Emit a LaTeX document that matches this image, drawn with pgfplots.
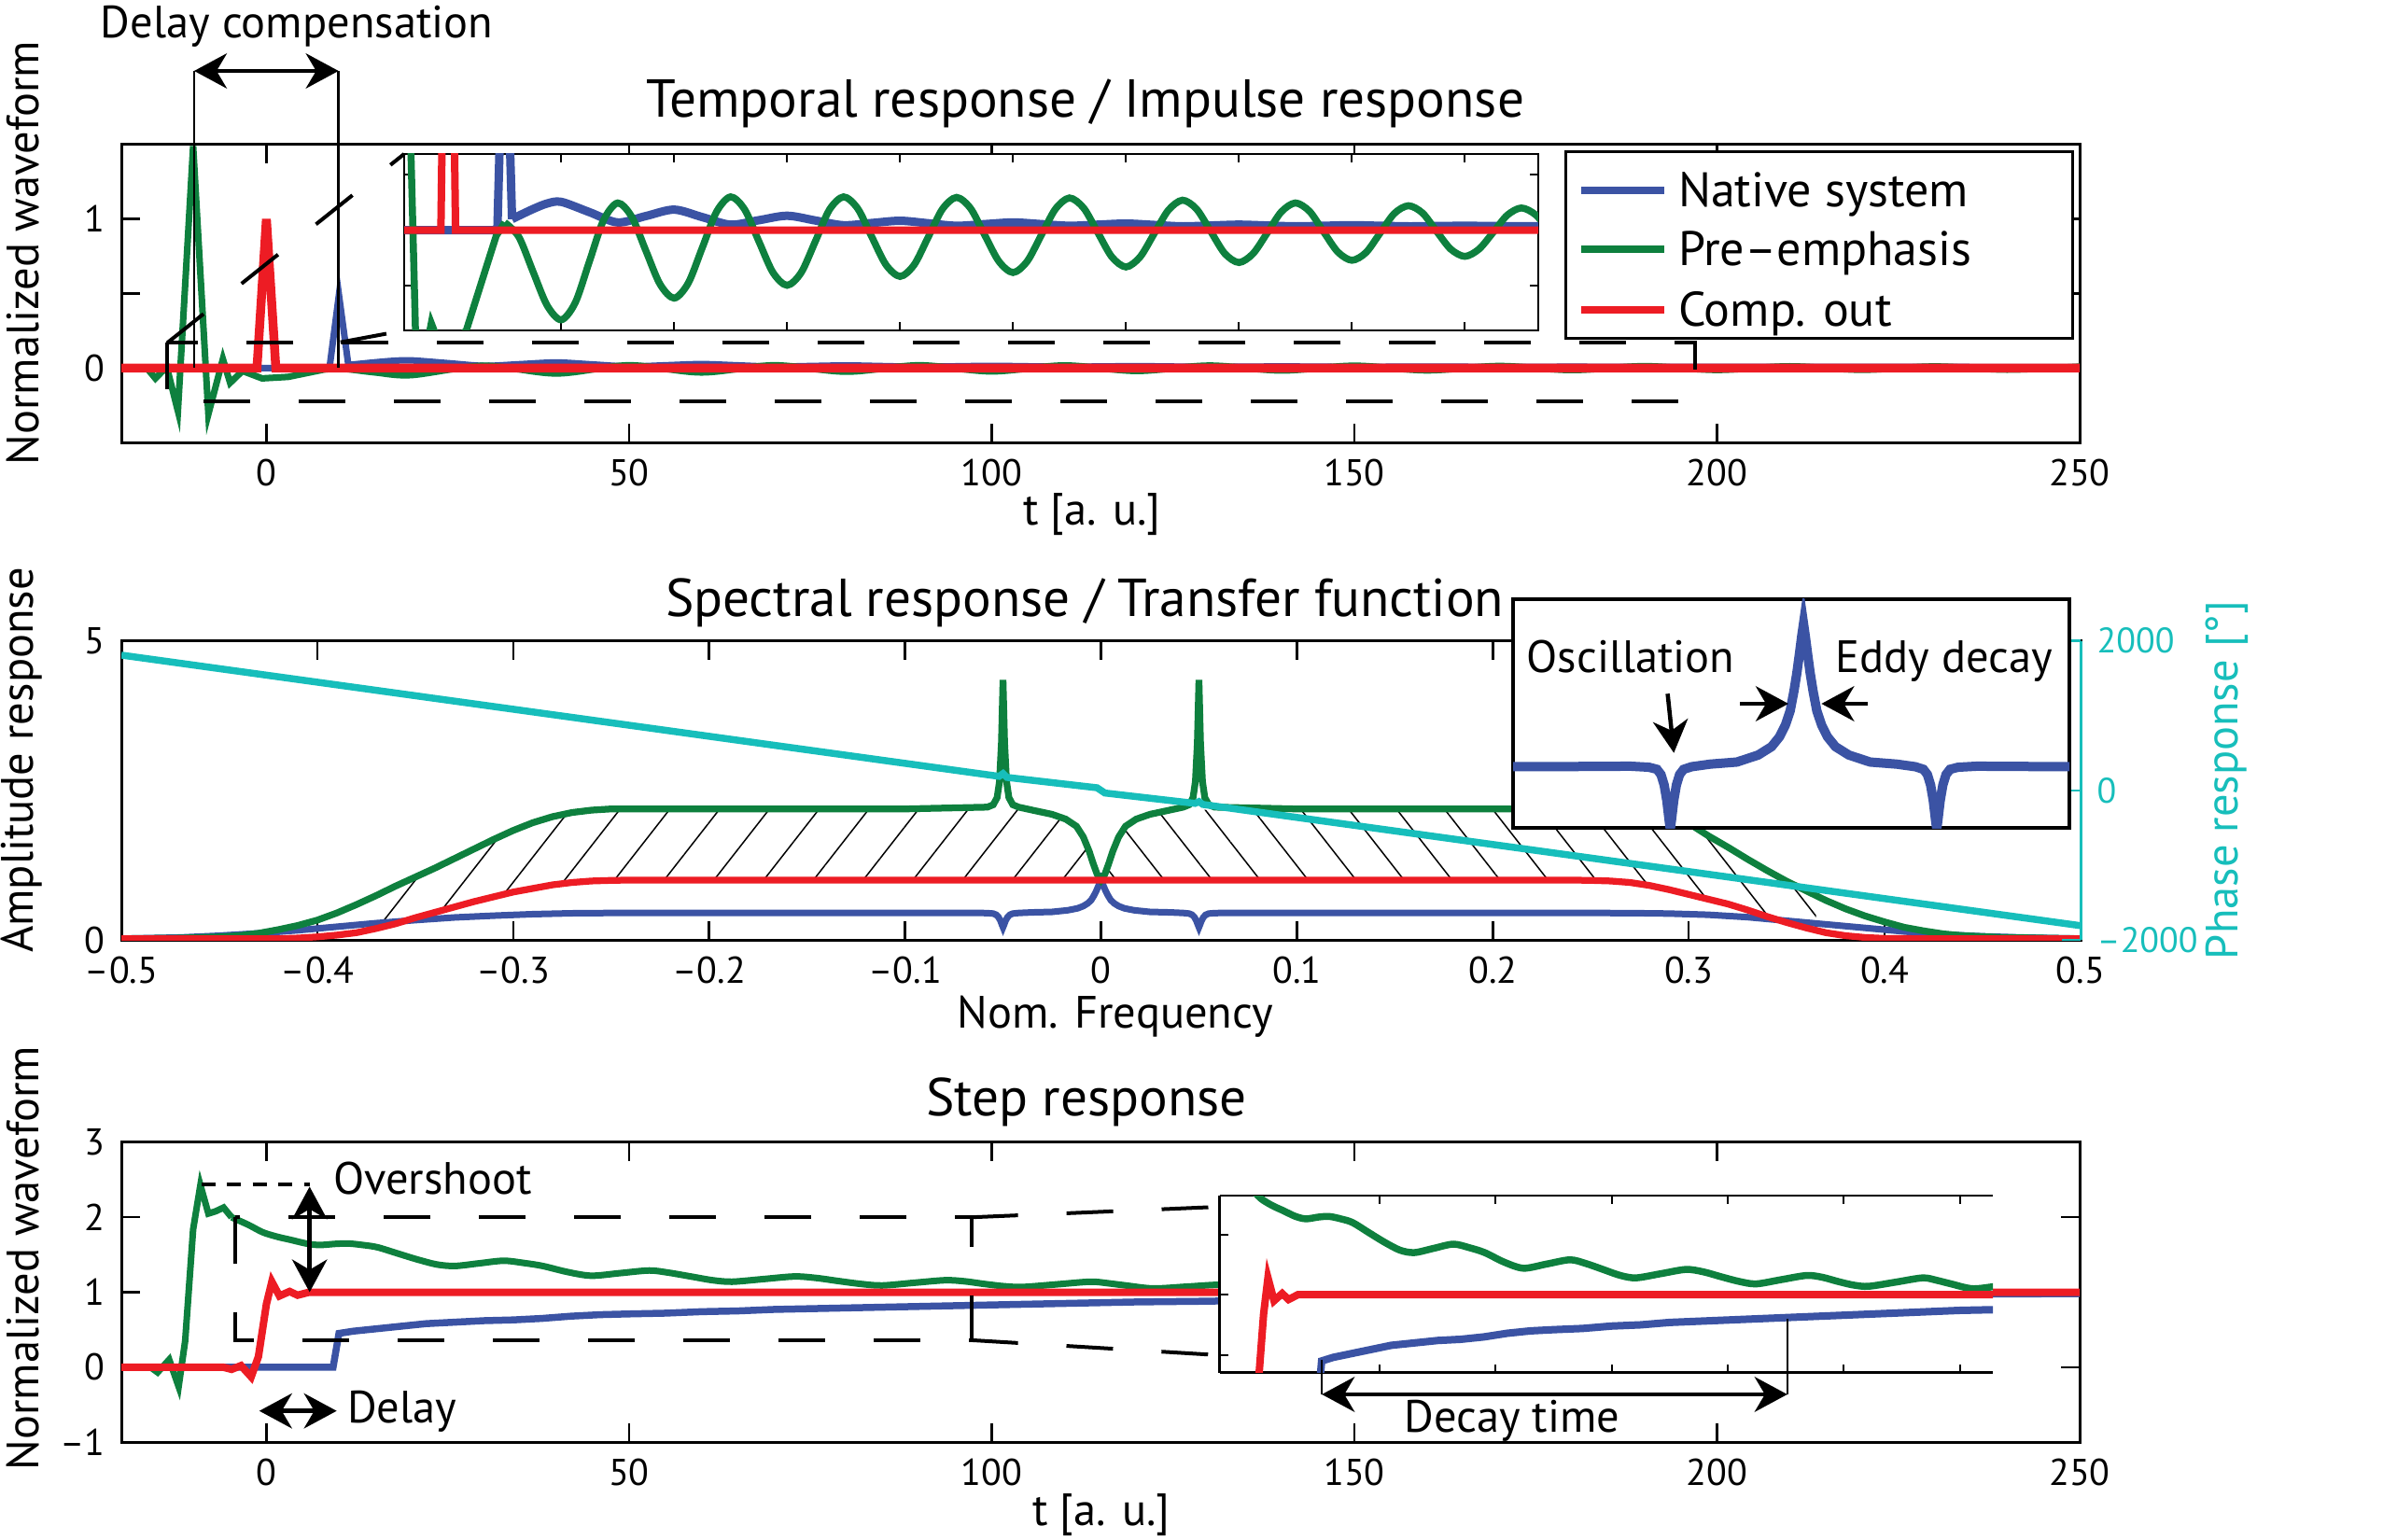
\documentclass[border=0pt]{standalone}
\usepackage{fontspec}
\setmainfont{PT Sans}
\usepackage{pgfplots}
\pgfplotsset{compat=1.18}
\usepackage{pgfplotstable}
\usetikzlibrary{arrows.meta,patterns.meta}

\definecolor{cblue}{RGB}{59,83,164}
\definecolor{cgreen}{RGB}{14,128,62}
\definecolor{cred}{RGB}{237,28,36}
\definecolor{ccyan}{RGB}{23,190,187}

\newcommand{\fTit}{\fontsize{11.45pt}{13.5pt}\selectfont}
\newcommand{\fLab}{\fontsize{9.7pt}{11.5pt}\selectfont}
\newcommand{\fLeg}{\fontsize{10.4pt}{12.5pt}\selectfont}
\newcommand{\fTick}{\fontsize{8pt}{9.5pt}\selectfont}
\newcommand{\fTickR}{\fontsize{7.6pt}{9pt}\selectfont}

% ---------- impulse response ----------
\pgfplotstableread{
t v
-20 0
8.7 0
10 0.49
11.3 0.02
}\bluespike
\pgfplotstableread{
t v
11.3 0.02
12.5 0.026
15 0.038
17.5 0.048
20 0.051
25 0.0325
30 0.014
35 0.0255
40 0.037
45 0.0235
50 0.010
55 0.018
60 0.026
65 0.0175
70 0.009
75 0.013
80 0.017
85 0.0125
90 0.008
95 0.011
100 0.014
105 0.011
110 0.008
115 0.010
120 0.012
125 0.0095
130 0.007
135 0.0085
140 0.010
145 0.0085
150 0.007
155 0.008
160 0.009
165 0.008
170 0.007
175 0.0075
180 0.008
185 0.0075
190 0.007
195 0.007
250 0.006
}\bluetail
\pgfplotstableread{
t v
-20 0
-1.3 0
0 1
1.3 0
250 0
}\redimp

% ---------- transfer function ----------
\pgfplotstableread{
f a
-0.5 0.02
-0.47 0.04
-0.45 0.07
-0.43 0.11
-0.41 0.16
-0.39 0.22
-0.37 0.28
-0.35 0.33
-0.33 0.375
-0.31 0.405
-0.29 0.43
-0.27 0.445
-0.25 0.45
-0.1 0.45
-0.065 0.452
-0.058 0.448
-0.055 0.44
-0.0535 0.42
-0.0523 0.38
-0.0513 0.32
-0.0505 0.25
-0.05 0.21
-0.0495 0.25
-0.0487 0.32
-0.0477 0.38
-0.0465 0.42
-0.045 0.44
-0.042 0.45
-0.035 0.46
-0.025 0.468
-0.017 0.495
-0.012 0.527
-0.009 0.565
-0.0068 0.61
-0.005 0.665
-0.0036 0.74
-0.0025 0.81
-0.0015 0.886
-0.0007 0.95
0 1.0
0.0007 0.95
0.0015 0.886
0.0025 0.81
0.0036 0.74
0.005 0.665
0.0068 0.61
0.009 0.565
0.012 0.527
0.017 0.495
0.025 0.468
0.035 0.46
0.042 0.45
0.045 0.44
0.0465 0.42
0.0477 0.38
0.0487 0.32
0.0495 0.25
0.05 0.21
0.0505 0.25
0.0513 0.32
0.0523 0.38
0.0535 0.42
0.055 0.44
0.058 0.448
0.065 0.452
0.1 0.45
0.25 0.45
0.27 0.448
0.29 0.44
0.31 0.42
0.33 0.38
0.35 0.32
0.37 0.26
0.39 0.20
0.41 0.14
0.43 0.09
0.45 0.06
0.47 0.04
0.5 0.02
}\blueB
\pgfplotstableread{
f a
-0.5 0.02
-0.42 0.02
-0.41 0.03
-0.4 0.05
-0.39 0.08
-0.38 0.12
-0.37 0.19
-0.36 0.27
-0.35 0.37
-0.34 0.46
-0.33 0.55
-0.32 0.64
-0.31 0.72
-0.3 0.80
-0.29 0.86
-0.28 0.92
-0.27 0.96
-0.26 0.985
-0.25 0.995
-0.24 1.0
0.24 1.0
0.25 0.995
0.26 0.985
0.27 0.96
0.28 0.91
0.29 0.84
0.3 0.76
0.31 0.68
0.32 0.60
0.33 0.50
0.34 0.39
0.35 0.29
0.36 0.20
0.37 0.12
0.38 0.07
0.39 0.04
0.4 0.025
0.42 0.02
0.5 0.02
}\redB
\pgfplotstableread{
f a
-0.5 0.02
-0.47 0.03
-0.45 0.05
-0.44 0.07
-0.43 0.11
-0.42 0.17
-0.41 0.24
-0.4 0.33
-0.39 0.45
-0.38 0.59
-0.37 0.74
-0.36 0.90
-0.35 1.05
-0.34 1.20
-0.33 1.36
-0.32 1.52
-0.31 1.68
-0.3 1.83
-0.29 1.96
-0.28 2.06
-0.27 2.13
-0.26 2.17
-0.25 2.19
-0.1 2.19
-0.058 2.22
-0.055 2.26
-0.053 2.38
-0.0518 2.65
-0.0508 3.3
-0.05 4.35
-0.0492 3.3
-0.0482 2.65
-0.047 2.38
-0.045 2.26
-0.042 2.22
-0.035 2.17
-0.025 2.10
-0.018 2.02
-0.0125 1.90
-0.009 1.72
-0.006 1.48
-0.004 1.28
-0.002 1.10
0 1.0
0.002 1.10
0.004 1.28
0.006 1.48
0.009 1.72
0.0125 1.90
0.018 2.02
0.025 2.10
0.035 2.17
0.042 2.22
0.045 2.26
0.047 2.38
0.0482 2.65
0.0492 3.3
0.05 4.35
0.0508 3.3
0.0518 2.65
0.053 2.38
0.055 2.26
0.058 2.22
0.1 2.19
0.27 2.19
0.28 2.17
0.29 2.12
0.3 1.95
0.31 1.74
0.32 1.55
0.33 1.35
0.34 1.16
0.35 0.98
0.36 0.82
0.37 0.66
0.38 0.52
0.39 0.40
0.4 0.30
0.41 0.21
0.42 0.15
0.43 0.10
0.44 0.07
0.46 0.04
0.5 0.02
}\greenB
\pgfplotstableread{
f p
-0.5 1810
-0.052 188
-0.05 225
-0.048 174
-0.002 35
0.002 -35
0.048 -174
0.05 -150
0.052 -188
0.5 -1810
}\cyanB

% ---------- step response ----------
\pgfplotstableread{
t v
-20 0
-16 0
-15 -0.07
-13.4 0.1
-12.1 -0.26
-11.2 0.35
-10.1 1.84
-9.1 2.43
-8 2.05
-7 2.08
-5.9 2.13
-4.8 2.0
}\greenstepA
\pgfplotstableread{
t v
-4.8 2.0
-2.5 1.9
-0.5 1.8
1.5 1.74
3.3 1.70
5.5 1.65
7.3 1.63
9.5 1.645
11.3 1.65
13.3 1.63
15.3 1.60
18 1.52
20.7 1.44
23.5 1.37
26 1.35
29.3 1.385
32.7 1.42
35.5 1.39
38.1 1.35
41.5 1.27
44.8 1.22
48.8 1.255
52.8 1.29
55.5 1.26
58.5 1.21
61.5 1.16
64.2 1.14
68.5 1.175
72.8 1.21
75.8 1.19
78.8 1.15
82 1.11
84.9 1.09
89.2 1.125
93.6 1.16
96.3 1.145
99 1.11
101.7 1.08
104.3 1.07
109 1.105
113.6 1.14
116 1.12
118.5 1.09
122.3 1.05
127 1.075
132 1.10
137 1.06
142 1.03
150 1.05
170 1.02
200 1.01
236 1.0
250 1.0
}\greenstepB
\pgfplotstableread{
t v
-20 0
-6 0
-4.8 -0.03
-3.5 0.02
-2.1 -0.13
-1.1 0.14
0 0.84
0.75 1.14
1.8 0.95
3.2 1.01
4.3 0.96
5.9 1.0
250 1.0
}\redstep
\pgfplotstableread{
t v
-20 0
9.2 0
10 0.45
12 0.48
14 0.50
18 0.54
22 0.58
26 0.60
30 0.62
34 0.63
38 0.65
42 0.68
46 0.70
50 0.71
55 0.72
60 0.74
65 0.75
70 0.77
75 0.78
80 0.79
85 0.80
90 0.81
95 0.82
100 0.83
110 0.85
120 0.87
130 0.88
140 0.90
160 0.92
180 0.94
200 0.96
220 0.97
250 0.98
}\bluestep

\pgfplotsset{
  every axis title shift=0pt,
  mainax/.style={scale only axis, anchor=south west, tick align=inside,
    major tick length=4pt, axis line style={line width=0.6pt},
    tick style={black,line width=0.5pt},
    xtick pos=both, ytick pos=both, xticklabel pos=lower, yticklabel pos=left,
    tick label style={font=\fTick}, /pgf/number format/assume math mode=true,
    label style={font=\fLab}, title style={font=\fTit, anchor=base}},
  inax/.style={scale only axis, anchor=south west, tick align=inside,
    major tick length=1.8pt, axis line style={line width=0.5pt},
    tick style={black,line width=0.4pt},
    xticklabels={}, yticklabels={}, axis background/.style={fill=white}},
}
\tikzset{
  dbl/.style={line width=0.9pt,
    {Stealth[length=7pt,width=7.5pt,inset=2.2pt]}-{Stealth[length=7pt,width=7.5pt,inset=2.2pt]}},
  sgl/.style={line width=0.9pt, -{Stealth[length=7pt,width=7.5pt,inset=2.2pt]}},
  zoomdash/.style={line width=0.8pt, dash pattern=on 10pt off 10.4pt},
}

\begin{document}
\begin{tikzpicture}
\path[use as bounding box] (0,0) rectangle (510.6pt,329.8pt);

% ===== Panel 1: impulse response =====
\begin{axis}[mainax, at={(26pt,235pt)}, width=419.6pt, height=63.8pt,
  xmin=-20, xmax=250, ymin=-0.5, ymax=1.5,
  xtick={0,50,100,150,200,250},
  ytick={-0.5,0,0.5,1,1.5}, yticklabels={,0,,1,},
  title={Temporal response / Impulse response},
  title style={at={(axis description cs:0.4924,1.091)}},
  xlabel={t [a. u.]},
  xlabel style={at={(axis description cs:0.4957,-0.276)}, anchor=base},
  ylabel={Normalized waveform},
  ylabel style={at={(axis description cs:-0.0502,0.636)}, anchor=center}]
\addplot[cblue, line width=1.4pt] table {\bluespike};
\addplot[cblue, line width=1.4pt, smooth] table {\bluetail};
\addplot[cgreen, line width=1.4pt] coordinates {
  (-20,0) (-16.5,0) (-15.3,-0.07) (-14.3,-0.02) (-13.7,0) (-12.2,-0.29)
  (-10.1,1.49) (-8,-0.31) (-6,0.06) (-5,-0.1) (-3.3,-0.02) (-0.6,-0.07)
  (3,-0.06) (8,-0.01) (10,0)};
\addplot[cgreen, line width=1.4pt, smooth] coordinates {
  (10,0) (15,-0.03) (20,-0.048) (30,0.015) (40,-0.037) (50,0.018)
  (60,-0.030) (70,0.018) (80,-0.025) (90,0.018) (100,-0.023) (110,0.017)
  (120,-0.020) (130,0.016) (140,-0.017) (150,0.015) (160,-0.016) (170,0.013)
  (180,-0.014) (190,0.012) (200,-0.013) (210,0.011) (220,-0.012) (230,0.010)
  (240,-0.011) (250,0.009)};
\addplot[cred, line width=1.9pt] table {\redimp};
\end{axis}

% inset of panel 1
\begin{axis}[inax, at={(86.6pt,259pt)}, width=243pt, height=37.8pt,
  xmin=-7.8, xmax=193, ymin=-0.18, ymax=0.137,
  xtick={20,40,...,180}, ytick={-0.1,0.1}]
\addplot[cblue, line width=1.8pt] table {\bluespike};
\addplot[cblue, line width=1.8pt, smooth] table {\bluetail};
\addplot[cgreen, line width=1.5pt] coordinates {
  (-10,1.5) (-5.5,-0.3) (-3,-0.167) (-1,-0.22) (3.2,-0.18) (6,-0.09)
  (8.5,-0.01) (10,0.014)};
\addplot[cgreen, line width=1.5pt, smooth] coordinates {
  (10,0.014) (12.5,-0.012) (15,-0.074) (17.5,-0.135) (20,-0.161)
  (22.5,-0.130) (25,-0.056) (27.5,0.018) (30,0.049) (32.5,0.024) (35,-0.037)
  (37.5,-0.097) (40,-0.122) (42.5,-0.095) (45,-0.031) (47.5,0.033) (50,0.060)
  (52.5,0.037) (55,-0.020) (57.5,-0.076) (60,-0.099) (62.5,-0.076) (65,-0.020)
  (67.5,0.037) (70,0.060) (72.5,0.039) (75,-0.012) (77.5,-0.062) (80,-0.083)
  (82.5,-0.062) (85,-0.012) (87.5,0.038) (90,0.059) (92.5,0.039) (95,-0.009)
  (97.5,-0.056) (100,-0.076) (102.5,-0.056) (105,-0.009) (107.5,0.038)
  (110,0.058) (112.5,0.040) (115,-0.004) (117.5,-0.048) (120,-0.066)
  (122.5,-0.048) (125,-0.006) (127.5,0.036) (130,0.054) (132.5,0.038)
  (135,-0.002) (137.5,-0.042) (140,-0.058) (142.5,-0.042) (145,-0.005)
  (147.5,0.033) (150,0.049) (152.5,0.034) (155,-0.003) (157.5,-0.039)
  (160,-0.054) (162.5,-0.040) (165,-0.005) (167.5,0.030) (170,0.044)
  (172.5,0.031) (175,-0.002) (177.5,-0.034) (180,-0.047) (182.5,-0.034)
  (185,-0.004) (187.5,0.027) (190,0.040) (192.5,0.028) (195,-0.001)};
\addplot[cred, line width=1.6pt] table {\redimp};
\end{axis}

% ===== Panel 2: transfer function =====
\begin{axis}[mainax, at={(26pt,128.4pt)}, width=419.8pt, height=64.06pt,
  xmin=-0.5, xmax=0.5, ymin=0, ymax=5,
  xtick={-0.5,-0.4,-0.3,-0.2,-0.1,0,0.1,0.2,0.3,0.4,0.5},
  xticklabels={–0.5,–0.4,–0.3,–0.2,–0.1,0,0.1,0.2,0.3,0.4,0.5},
  ytick={0,5}, ytick pos=left,
  title={Spectral response / Transfer function},
  title style={at={(axis description cs:0.4917,1.0833)}},
  xlabel={Nom. Frequency},
  xlabel style={at={(axis description cs:0.5074,-0.2957)}, anchor=base},
  ylabel={Amplitude response},
  ylabel style={at={(axis description cs:-0.051,0.601)}, anchor=center}]
% hatched region between pre-emphasis and compensated output
\addplot[draw=none, pattern={Lines[angle=52,distance=8.4pt,line width=0.3pt]}]
  coordinates {
  (-0.38,0.59) (-0.37,0.74) (-0.36,0.9) (-0.35,1.05) (-0.34,1.2) (-0.33,1.36)
  (-0.32,1.52) (-0.31,1.68) (-0.3,1.83) (-0.29,1.96) (-0.28,2.06) (-0.27,2.13)
  (-0.26,2.17) (-0.25,2.19) (-0.1,2.19) (-0.035,2.17) (-0.025,2.10)
  (-0.018,2.02) (-0.0125,1.90) (-0.009,1.72) (-0.006,1.48) (-0.004,1.28)
  (-0.002,1.10) (0,1.0) (-0.24,1.0) (-0.25,0.995) (-0.26,0.985) (-0.27,0.96)
  (-0.28,0.92) (-0.29,0.86) (-0.3,0.8) (-0.31,0.72) (-0.32,0.64) (-0.33,0.55)
  (-0.34,0.46) (-0.35,0.37) (-0.36,0.27) (-0.37,0.19) (-0.38,0.12)} -- cycle;
\addplot[draw=none, pattern={Lines[angle=-52,distance=8.1pt,line width=0.3pt]}]
  coordinates {
  (0,1.0) (0.002,1.10) (0.004,1.28) (0.006,1.48) (0.009,1.72) (0.0125,1.90)
  (0.018,2.02) (0.025,2.10) (0.035,2.17) (0.1,2.19) (0.27,2.19) (0.28,2.17)
  (0.29,2.12) (0.3,1.95) (0.31,1.74) (0.32,1.55) (0.33,1.35) (0.34,1.16)
  (0.35,0.98) (0.36,0.82) (0.365,0.74) (0.365,0.16) (0.36,0.2) (0.35,0.29)
  (0.34,0.39) (0.33,0.5) (0.32,0.6) (0.31,0.68) (0.3,0.76) (0.29,0.84)
  (0.28,0.91) (0.27,0.96) (0.26,0.985) (0.25,0.995) (0.24,1.0)} -- cycle;
\addplot[cblue, line width=1.4pt] table {\blueB};
\addplot[cgreen, line width=1.45pt] table {\greenB};
\addplot[cred, line width=1.45pt] table {\redB};
\end{axis}

\begin{axis}[mainax, at={(26pt,128.4pt)}, width=419.8pt, height=64.06pt,
  xmin=-0.5, xmax=0.5, ymin=-2000, ymax=2000,
  axis x line=none, axis y line*=right,
  ytick={-2000,0,2000}, yticklabels={–2000,0,2000},
  ytick pos=right, yticklabel pos=right,
  y axis line style={ccyan, line width=0.6pt},
  ytick style={ccyan}, yticklabel style={ccyan, font=\fTickR},
  ylabel={Phase response [°]},
  ylabel style={ccyan, at={(axis description cs:1.0745,0.534)}, anchor=center}]
\addplot[ccyan, line width=1.5pt] table {\cyanB};
\end{axis}

% inset of panel 2
\begin{axis}[scale only axis, anchor=south west, at={(324.2pt,152.4pt)},
  width=119.2pt, height=49.06pt,
  xmin=-0.109, xmax=0.0998, ymin=0.215, ymax=1.095,
  xtick=\empty, ytick=\empty, axis line style={line width=0.8pt},
  axis background/.style={fill=white}]
\addplot[cblue, line width=2pt] table {\blueB};
\end{axis}

% ===== Panel 3: step response =====
\begin{axis}[mainax, at={(26pt,20.8pt)}, width=419.6pt, height=64.2pt,
  xmin=-20, xmax=250, ymin=-1, ymax=3,
  xtick={0,50,100,150,200,250},
  ytick={-1,0,1,2,3}, yticklabels={–1,0,1,2,3},
  title={Step response},
  title style={at={(axis description cs:0.4928,1.090)}},
  xlabel={t [a. u.]},
  xlabel style={at={(axis description cs:0.5005,-0.280)}, anchor=base},
  ylabel={Normalized waveform},
  ylabel style={at={(axis description cs:-0.0502,0.6137)}, anchor=center}]
\addplot[cblue, line width=1.5pt] table {\bluestep};
\addplot[cgreen, line width=1.4pt] table {\greenstepA};
\addplot[cgreen, line width=1.4pt, smooth] table {\greenstepB};
\addplot[cred, line width=1.6pt] table {\redstep};
\end{axis}

% inset of panel 3
\begin{axis}[inax, at={(261.3pt,35.66pt)}, width=165.7pt, height=37.94pt,
  xmin=-7.6, xmax=125.7, ymin=0.353, ymax=1.823,
  axis x line*=box, axis y line*=left,
  xtick={20,40,...,120}, ytick={0.5,1,1.5}]
\addplot[cblue, line width=1.6pt] table {\bluestep};
\addplot[cgreen, line width=1.5pt] table {\greenstepA};
\addplot[cgreen, line width=1.5pt, smooth] table {\greenstepB};
\addplot[cred, line width=1.6pt] table {\redstep};
\end{axis}

% ===== annotations (pixel coordinates, origin top left) =====
\begin{scope}[x=0.2pt, y=-0.2pt, shift={(0pt,329.8pt)}]
% panel 1
\draw[line width=0.5pt] (208,76) -- (208,394);
\draw[line width=0.5pt] (362.7,76) -- (362.7,394);
\draw[dbl] (208,76) -- (362.7,76);
\node[font=\fLab, anchor=base] at (318,41) {Delay compensation};
\draw[zoomdash] (179,367.5) rectangle (1816,430.2);
\draw[zoomdash] (179,367.5) -- (433,165);
\draw[zoomdash] (364.8,366.7) -- (433,354);
% legend
\draw[line width=0.6pt, fill=white] (1677,163) rectangle (2220,363);
\draw[cblue, line width=1.5pt] (1694,204) -- (1783,204);
\draw[cgreen, line width=1.5pt] (1694,267) -- (1783,267);
\draw[cred, line width=1.5pt] (1694,332) -- (1783,332);
\node[font=\fLeg, anchor=base west, inner sep=0pt] at (1797,222) {Native system};
\node[font=\fLeg, anchor=base west, inner sep=0pt] at (1797,285) {Pre–emphasis};
\node[font=\fLeg, anchor=base west, inner sep=0pt] at (1797,350) {Comp. out};
% panel 2
\node[font=\fLab, anchor=base] at (1747,721) {Oscillation};
\node[font=\fLab, anchor=base] at (2083,721) {Eddy decay};
\draw[sgl] (1786.6,743.3) -- (1793.3,806.7);
\draw[sgl] (1864.4,754) -- (1916,754);
\draw[sgl] (2001,754) -- (1951.4,754);
% panel 3
\draw[line width=0.7pt, dash pattern=on 3pt off 2.5pt] (215.6,1269) -- (331.7,1269);
\draw[dbl] (331.7,1271.4) -- (331.7,1384.5);
\node[font=\fLab, anchor=base west, inner sep=0pt] at (357,1280) {Overshoot};
\draw[zoomdash] (252,1304.25) rectangle (1040.7,1435.9);
\draw[zoomdash] (1040.7,1304.25) -- (1306.5,1293);
\draw[zoomdash] (1040.7,1435.9) -- (1306.5,1452);
\draw[dbl] (277.8,1511.7) -- (360.7,1511.7);
\node[font=\fLab, anchor=base west, inner sep=0pt] at (371,1525) {Delay};
\draw[line width=0.5pt] (1416.2,1456.7) -- (1416.2,1494);
\draw[line width=0.5pt] (1914.8,1413) -- (1914.8,1494);
\draw[dbl] (1416.2,1494) -- (1914.8,1494);
\node[font=\fLab, anchor=base] at (1620,1535) {Decay time};
\end{scope}
\end{tikzpicture}
\end{document}
